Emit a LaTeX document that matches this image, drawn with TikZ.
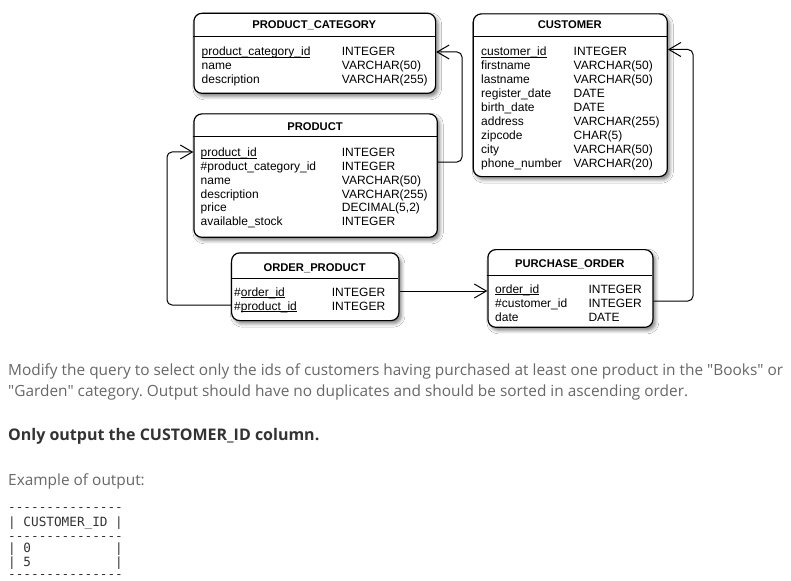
\documentclass[tikz,border=0pt]{standalone}
\usepackage{fontspec}
\setmainfont{Liberation Sans}
\newfontfamily\osans{Open Sans}
\setmonofont{DejaVu Sans Mono}
\usetikzlibrary{arrows.meta,shadows.blur,calc}
\definecolor{bodygray}{HTML}{686868}
\definecolor{darktxt}{HTML}{333333}
\newsavebox\ulbox
\newcommand\myul[1]{\sbox\ulbox{#1}\rlap{\usebox\ulbox}\rule[-1.6pt]{\wd\ulbox}{0.7pt}}
\frenchspacing
\tikzset{
  tbl/.style={draw, line width=1.2pt, rounded corners=8pt, fill=white, inner sep=0pt, anchor=north west,
    blur shadow={shadow xshift=2.5pt, shadow yshift=-3pt, shadow blur radius=3.5pt, shadow opacity=50}},
  hdr/.style={anchor=base, inner sep=0pt, font=\fontsize{11.2}{13}\selectfont\bfseries},
  fld/.style={anchor=base west, inner sep=0pt, font=\fontsize{12}{14}\selectfont},
  hline/.style={line width=1pt},
  arr/.style={line width=1pt, rounded corners=5pt, -{Straight Barb[length=12pt,width=14pt,line width=1pt]}},
  body/.style={anchor=base west, inner sep=0pt, text=bodygray, font=\osans\fontsize{15.4}{20}\selectfont},
  bodyb/.style={anchor=base west, inner sep=0pt, text=darktxt, font=\osans\fontsize{16}{20}\selectfont\bfseries},
  mono/.style={anchor=base west, inner sep=0pt, text=darktxt, font=\ttfamily\fontsize{12.7}{14}\selectfont},
}
\begin{document}
\begin{tikzpicture}[x=1pt,y=-1pt]
\useasboundingbox (0,0) rectangle (791,580);
\fill[white] (0,0) rectangle (791,580);

% ---------- PRODUCT_CATEGORY
\node[tbl, minimum width=241.7pt, minimum height=80pt] (pc) at (193.3,12.7) {};
\node[hdr] (pch) at (314.2,29) {PRODUCT\_CATEGORY};
\draw[hline] (193.3,36.7) -- (435,36.7);
\node[fld] (pc1a) at (201.5,56) {\myul{product\_category\_id}};
\node[fld] (pc1b) at (341.7,56) {INTEGER};
\node[fld] (pc2a) at (201.5,70) {name};
\node[fld] (pc2b) at (341.7,70) {VARCHAR(50)};
\node[fld] (pc3a) at (201.5,84) {description};
\node[fld] (pc3b) at (341.7,84) {VARCHAR(255)};

% ---------- CUSTOMER
\node[tbl, minimum width=194pt, minimum height=162.7pt] (cu) at (472.7,13.3) {};
\node[hdr] (cuh) at (569.7,29) {CUSTOMER};
\draw[hline] (472.7,37) -- (666.7,37);
\node[fld] (cu1a) at (481,56) {\myul{customer\_id}};
\node[fld] (cu1b) at (573.5,56) {INTEGER};
\node[fld] (cu2a) at (481,69.9) {firstname};
\node[fld] (cu2b) at (573.5,69.9) {VARCHAR(50)};
\node[fld] (cu3a) at (481,83.8) {lastname};
\node[fld] (cu3b) at (573.5,83.8) {VARCHAR(50)};
\node[fld] (cu4a) at (481,97.7) {register\_date};
\node[fld] (cu4b) at (573.5,97.7) {DATE};
\node[fld] (cu5a) at (481,111.6) {birth\_date};
\node[fld] (cu5b) at (573.5,111.6) {DATE};
\node[fld] (cu6a) at (481,125.5) {address};
\node[fld] (cu6b) at (573.5,125.5) {VARCHAR(255)};
\node[fld] (cu7a) at (481,139.4) {zipcode};
\node[fld] (cu7b) at (573.5,139.4) {CHAR(5)};
\node[fld] (cu8a) at (481,153.3) {city};
\node[fld] (cu8b) at (573.5,153.3) {VARCHAR(50)};
\node[fld] (cu9a) at (481,167.2) {phone\_number};
\node[fld] (cu9b) at (573.5,167.2) {VARCHAR(20)};

% ---------- PRODUCT
\node[tbl, minimum width=243.4pt, minimum height=123.4pt] (prod) at (193.3,113.3) {};
\node[hdr] (prh) at (315,131) {PRODUCT};
\draw[hline] (193.3,136.7) -- (436.7,136.7);
\node[fld] (pr1a) at (200.5,157) {\myul{product\_id}};
\node[fld] (pr1b) at (341.7,157) {INTEGER};
\node[fld] (pr2a) at (200.5,170.7) {\#product\_category\_id};
\node[fld] (pr2b) at (341.7,170.7) {INTEGER};
\node[fld] (pr3a) at (200.5,184.4) {name};
\node[fld] (pr3b) at (341.7,184.4) {VARCHAR(50)};
\node[fld] (pr4a) at (200.5,198.1) {description};
\node[fld] (pr4b) at (341.7,198.1) {VARCHAR(255)};
\node[fld] (pr5a) at (200.5,211.8) {price};
\node[fld] (pr5b) at (341.7,211.8) {DECIMAL(5,2)};
\node[fld] (pr6a) at (200.5,225.5) {available\_stock};
\node[fld] (pr6b) at (341.7,225.5) {INTEGER};

% ---------- ORDER_PRODUCT
\node[tbl, minimum width=167.3pt, minimum height=67.7pt] (op) at (231,252.3) {};
\node[hdr] (oph) at (314.6,271) {ORDER\_PRODUCT};
\draw[hline] (231,278.3) -- (398.3,278.3);
\node[fld] (op1a) at (234,296) {\#\myul{order\_id}};
\node[fld] (op1b) at (331.7,296) {INTEGER};
\node[fld] (op2a) at (234,310) {\#\myul{product\_id}};
\node[fld] (op2b) at (331.7,310) {INTEGER};

% ---------- PURCHASE_ORDER
\node[tbl, minimum width=165pt, minimum height=77.7pt] (po) at (487.3,249) {};
\node[hdr] (poh) at (569.8,267) {PURCHASE\_ORDER};
\draw[hline] (487.3,275.7) -- (652.3,275.7);
\node[fld] (po1a) at (495,293) {\myul{order\_id}};
\node[fld] (po1b) at (588.3,293) {INTEGER};
\node[fld] (po2a) at (495,307) {\#customer\_id};
\node[fld] (po2b) at (588.3,307) {INTEGER};
\node[fld] (po3a) at (495,321) {date};
\node[fld] (po3b) at (588.3,321) {DATE};

% ---------- connectors
\coordinate (k1) at (462,162);
\coordinate (k2) at (462,52);
\draw[arr] (prod.east |- k1) -- (k1) -- (k2) -- (pc.east |- k2);

\coordinate (k3) at (167,305);
\coordinate (k4) at (167,152);
\draw[arr] (op.west |- k3) -- (k3) -- (k4) -- (prod.west |- k4);

\coordinate (k5) at (440,291);
\draw[arr] (op.east |- k5) -- (po.west |- k5);

\coordinate (k6) at (693,301);
\coordinate (k7) at (693,49.5);
\draw[arr] (po.east |- k6) -- (k6) -- (k7) -- (cu.east |- k7);

% ---------- text
\node[body] (t1) at (8,375) {Modify the query to select only the ids of customers having purchased at least one product in the "Books" or};
\node[body] (t2) at (8,396) {"Garden" category. Output should have no duplicates and should be sorted in ascending order.};
\node[bodyb] (t3) at (8,440.5) {Only output the CUSTOMER\_ID column.};
\node[body] (t4) at (8,485) {Example of output:};

\node[mono] (m1) at (8,511.5) {---------------};
\node[mono] (m2) at (8,526.5) {|~CUSTOMER\_ID~|};
\node[mono] (m3) at (8,540) {---------------};
\node[mono] (m4) at (8,552) {|~0~~~~~~~~~~~|};
\node[mono] (m5) at (8,566) {|~5~~~~~~~~~~~|};
\node[mono] (m6) at (8,578) {---------------};
\end{tikzpicture}
\end{document}
